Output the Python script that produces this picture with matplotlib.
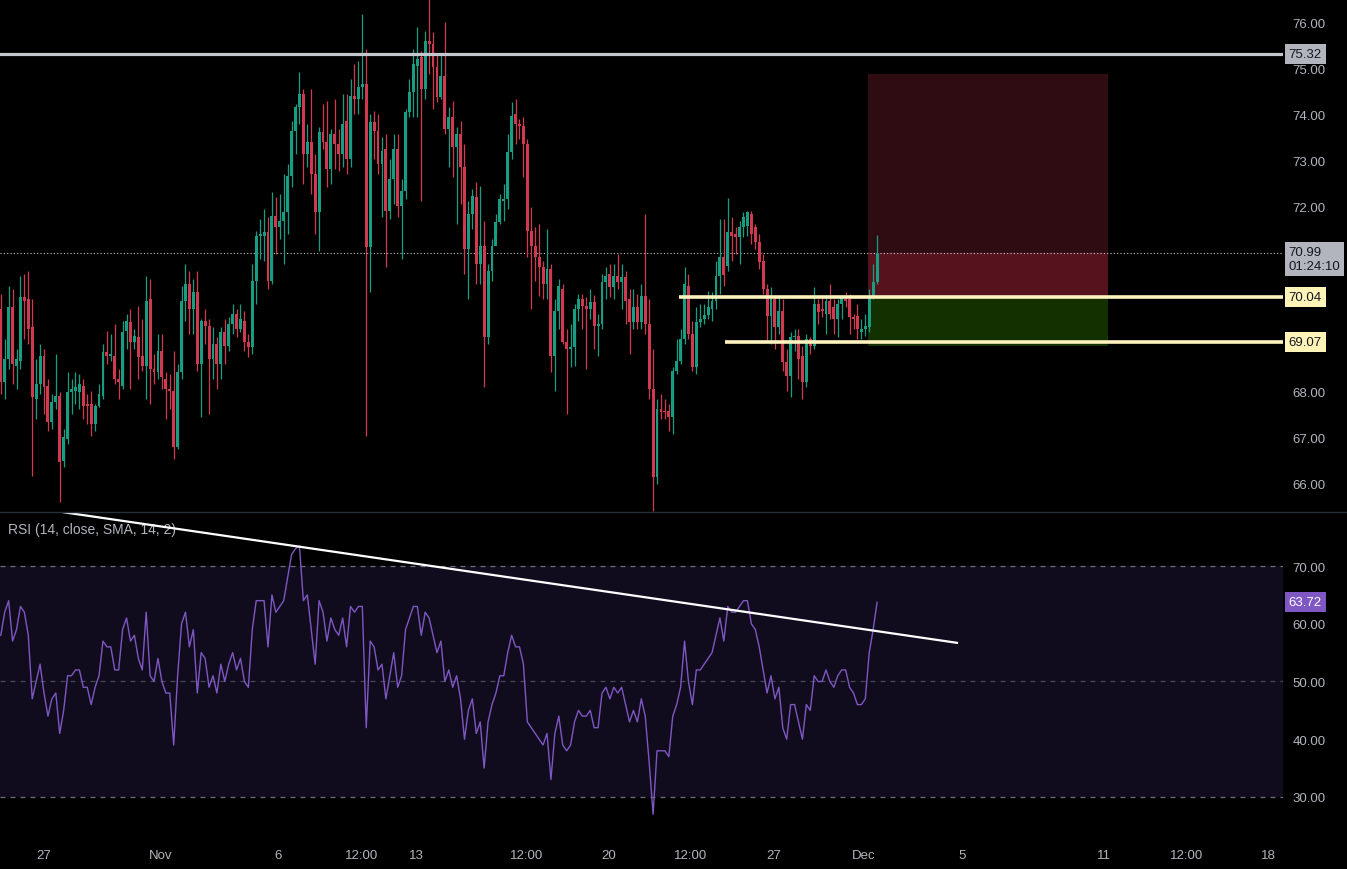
import matplotlib
matplotlib.use('Agg')
import matplotlib.pyplot as plt
import matplotlib.transforms as mtransforms
from matplotlib.patches import Rectangle
from matplotlib.lines import Line2D

# ---- data (4h-ish bars) ----
opens = [69.78, 68.20, 68.70, 69.83, 68.54, 68.65, 70.04, 70.00, 69.39, 67.83,
         68.15, 68.76, 68.11, 67.33, 67.76, 67.89, 66.48, 66.96, 67.98, 68.00,
         67.98, 68.11, 67.72, 67.72, 67.28, 67.67, 67.89, 68.85, 68.76, 68.76,
         68.26, 68.11, 69.30, 69.50, 69.07, 69.17, 68.76, 68.54, 70.00, 68.48,
         68.41, 68.87, 68.26, 68.04, 68.00, 66.78, 68.41, 69.96, 70.33, 69.78,
         70.15, 68.59, 69.52, 69.41, 68.70, 69.02, 68.59, 69.28, 68.98, 69.46,
         69.67, 69.35, 69.52, 69.07, 68.96, 70.39, 71.37, 71.37, 71.46, 70.39,
         71.80, 71.57, 71.70, 71.89, 72.67, 73.65, 74.17, 74.46, 73.15, 73.41,
         72.72, 71.89, 73.63, 73.41, 72.83, 73.59, 73.37, 73.15, 73.87, 73.04,
         74.41, 74.35, 74.61, 74.67, 71.13, 73.85, 73.65, 72.93, 73.26, 71.91,
         72.61, 73.26, 72.02, 72.35, 74.07, 74.50, 75.07, 75.26, 74.57, 75.61,
         75.54, 75.04, 74.39, 74.85, 73.70, 73.96, 73.30, 73.59, 72.87, 71.09,
         71.85, 72.22, 70.76, 71.15, 69.17, 70.61, 71.15, 71.67, 72.13, 72.17,
         73.20, 74.02, 73.80, 73.76, 73.37, 71.48, 71.15, 70.91, 70.70, 70.33,
         70.65, 68.76, 69.74, 70.22, 69.07, 68.91, 68.96, 69.78, 70.00, 69.85,
         69.78, 69.93, 69.41, 69.46, 70.37, 70.54, 70.26, 70.50, 70.37, 70.48,
         70.00, 69.50, 69.83, 69.50, 70.07, 69.46, 68.04, 66.13, 67.61, 67.57,
         67.57, 67.43, 68.43, 68.65, 69.13, 70.28, 69.24, 68.52, 69.50, 69.57,
         69.65, 69.78, 69.96, 70.50, 70.91, 70.72, 71.46, 71.41, 71.35, 71.57,
         71.59, 71.85, 71.57, 71.24, 70.83, 70.22, 69.63, 70.00, 69.39, 69.74,
         68.63, 68.33, 69.17, 69.20, 68.76, 68.20, 69.13, 68.98, 69.89, 69.78,
         69.67, 69.96, 69.83, 69.57, 69.89, 70.00, 70.00, 69.61, 69.63, 69.28,
         69.35, 69.39, 70.07, 70.37]
closes = [68.20, 68.70, 69.83, 68.59, 68.70, 70.04, 69.96, 69.35, 67.87, 68.15,
          68.76, 68.09, 67.33, 67.76, 67.89, 66.46, 67.00, 67.98, 68.04, 68.09,
          68.15, 67.67, 67.67, 67.28, 67.67, 67.93, 68.85, 68.76, 68.80, 68.26,
          68.20, 69.28, 69.52, 69.07, 69.20, 68.74, 68.54, 69.96, 68.48, 68.41,
          68.87, 68.30, 68.04, 68.00, 66.78, 68.41, 69.96, 70.33, 69.78, 70.15,
          68.59, 69.52, 69.41, 68.70, 69.02, 68.59, 69.28, 68.98, 69.46, 69.67,
          69.35, 69.57, 69.07, 68.96, 70.39, 71.37, 71.41, 71.46, 70.39, 71.80,
          71.57, 71.70, 71.89, 72.67, 73.65, 74.17, 74.46, 73.15, 73.41, 72.72,
          71.89, 73.63, 73.41, 72.83, 73.59, 73.37, 73.15, 73.80, 73.04, 74.41,
          74.35, 74.61, 74.67, 71.13, 73.85, 73.65, 72.93, 73.22, 71.91, 72.61,
          73.26, 72.02, 72.35, 74.07, 74.50, 75.11, 75.22, 74.57, 75.61, 75.54,
          75.04, 74.39, 74.85, 73.70, 73.96, 73.30, 73.59, 72.87, 71.09, 71.85,
          72.24, 70.76, 71.15, 69.17, 70.61, 71.15, 71.67, 72.17, 72.17, 73.20,
          73.98, 73.80, 73.76, 73.37, 71.48, 71.15, 70.91, 70.70, 70.33, 70.65,
          68.76, 69.74, 70.28, 69.07, 68.91, 68.96, 69.78, 70.00, 69.85, 69.78,
          69.93, 69.41, 69.46, 70.37, 70.50, 70.26, 70.50, 70.37, 70.48, 69.96,
          69.50, 69.83, 69.50, 70.07, 69.46, 68.04, 66.13, 67.61, 67.54, 67.54,
          67.43, 68.43, 68.65, 69.13, 70.33, 69.24, 68.52, 69.50, 69.57, 69.65,
          69.83, 69.96, 70.50, 70.91, 70.52, 71.46, 71.37, 71.35, 71.57, 71.78,
          71.89, 71.41, 71.24, 70.80, 70.22, 69.63, 70.00, 69.39, 69.74, 68.63,
          68.33, 69.17, 69.20, 68.70, 68.20, 69.13, 68.98, 69.89, 69.72, 69.74,
          69.96, 69.67, 69.57, 69.89, 70.04, 69.96, 69.61, 69.57, 69.35, 69.35,
          69.41, 70.04, 70.37, 70.99]
highs = [70.11, 69.13, 70.28, 70.22, 68.91, 70.50, 70.54, 70.61, 70.00, 68.70,
         69.02, 68.91, 68.26, 67.93, 68.80, 67.98, 67.17, 68.41, 68.26, 68.41,
         68.37, 68.26, 67.93, 68.00, 67.72, 68.15, 69.02, 69.30, 69.24, 69.46,
         68.48, 69.52, 69.67, 69.78, 69.35, 69.85, 69.57, 70.50, 70.43, 68.80,
         69.24, 69.24, 68.41, 68.37, 68.87, 68.59, 70.28, 70.76, 70.61, 70.43,
         70.61, 69.57, 69.78, 69.57, 69.39, 69.17, 69.39, 69.57, 69.61, 69.89,
         69.78, 69.89, 69.74, 69.24, 70.76, 71.48, 71.74, 71.96, 71.78, 72.33,
         72.22, 72.28, 72.72, 72.93, 73.87, 74.24, 74.93, 74.57, 73.80, 74.57,
         73.15, 73.74, 74.24, 74.30, 73.70, 74.35, 73.70, 74.46, 74.46, 74.78,
         75.11, 75.17, 76.20, 75.43, 74.02, 74.09, 74.02, 73.52, 73.59, 73.04,
         73.59, 73.59, 72.61, 74.13, 74.78, 75.43, 75.91, 75.39, 75.83, 76.52,
         75.80, 75.33, 75.33, 76.02, 74.17, 74.30, 73.74, 73.87, 73.37, 72.13,
         72.39, 72.54, 72.46, 71.70, 70.76, 71.30, 71.85, 72.28, 72.50, 73.59,
         74.28, 74.35, 73.91, 73.96, 73.48, 72.00, 71.57, 71.63, 70.83, 71.52,
         70.76, 70.00, 70.43, 70.33, 69.35, 69.46, 69.89, 70.11, 70.11, 70.04,
         70.22, 70.09, 69.67, 70.54, 70.70, 70.76, 70.76, 70.98, 70.76, 70.61,
         70.22, 70.22, 70.11, 70.33, 71.85, 70.00, 68.91, 67.83, 67.93, 67.83,
         67.72, 68.52, 69.13, 69.35, 70.70, 70.54, 69.52, 69.83, 69.89, 69.89,
         70.17, 70.15, 70.83, 71.74, 71.74, 72.20, 71.78, 71.57, 71.70, 71.89,
         71.91, 71.91, 71.63, 71.41, 70.98, 70.33, 70.26, 70.04, 70.04, 70.00,
         68.91, 69.28, 69.35, 69.35, 68.98, 69.24, 69.17, 70.26, 70.00, 70.04,
         70.09, 70.33, 70.00, 70.00, 70.09, 70.15, 70.11, 69.67, 69.89, 69.57,
         69.67, 70.22, 70.76, 71.39]
lows = [67.93, 67.83, 68.48, 68.15, 68.04, 68.48, 69.13, 69.02, 66.15, 67.39,
        67.93, 67.50, 67.13, 67.17, 67.61, 65.59, 66.35, 66.85, 67.50, 67.72,
        67.61, 67.39, 67.28, 67.02, 67.13, 67.65, 67.83, 68.59, 68.65, 68.15,
        67.83, 68.04, 68.91, 68.04, 68.91, 68.26, 68.43, 67.83, 67.72, 68.15,
        68.26, 68.04, 67.39, 67.61, 66.52, 66.74, 68.26, 69.52, 69.24, 69.24,
        68.43, 67.43, 69.02, 67.50, 68.26, 68.04, 68.26, 68.59, 68.87, 69.24,
        69.17, 69.28, 68.87, 68.74, 68.80, 69.89, 70.87, 70.83, 70.22, 70.33,
        70.98, 71.30, 70.76, 71.41, 72.43, 73.15, 73.80, 72.50, 72.87, 72.28,
        71.41, 71.04, 73.26, 72.43, 72.50, 72.83, 72.78, 72.87, 72.72, 72.87,
        74.02, 74.02, 74.35, 67.02, 70.15, 73.04, 72.72, 71.78, 70.70, 71.74,
        72.07, 71.78, 70.87, 72.17, 73.96, 73.96, 73.96, 72.13, 74.35, 74.89,
        74.13, 74.28, 74.35, 73.59, 72.87, 72.65, 71.63, 72.07, 70.54, 70.00,
        71.52, 70.33, 70.33, 68.09, 69.02, 70.39, 71.41, 71.63, 71.70, 71.96,
        73.04, 73.37, 73.48, 72.65, 70.91, 69.78, 70.39, 70.07, 70.00, 70.00,
        68.41, 68.00, 69.35, 69.02, 67.50, 68.52, 68.54, 69.52, 69.35, 68.48,
        69.57, 68.91, 68.76, 69.35, 70.00, 70.04, 70.00, 70.22, 69.78, 69.46,
        68.80, 69.35, 69.35, 69.35, 69.24, 67.83, 65.39, 65.98, 67.39, 67.39,
        67.13, 67.07, 68.37, 68.59, 69.02, 69.13, 68.43, 68.37, 69.39, 69.46,
        69.57, 69.52, 69.78, 70.11, 70.28, 70.61, 70.83, 70.98, 70.76, 71.35,
        71.37, 71.20, 71.09, 70.65, 70.11, 69.07, 69.02, 68.91, 69.24, 68.43,
        68.00, 67.87, 68.87, 68.26, 67.83, 68.09, 68.80, 68.91, 69.46, 69.61,
        69.24, 69.57, 69.24, 69.17, 69.57, 69.83, 69.24, 69.35, 69.13, 69.13,
        69.20, 69.28, 70.00, 70.33]
rsi = [58, 62, 64, 57, 59, 63, 62, 58, 47, 50,
       53, 48, 44, 47, 48, 41, 45, 51, 51, 52,
       52, 49, 49, 46, 49, 51, 57, 56, 56, 52,
       52, 59, 61, 57, 58, 54, 52, 62, 51, 50,
       54, 50, 48, 48, 39, 51, 60, 62, 56, 59,
       48, 55, 54, 49, 51, 48, 53, 50, 53, 55,
       52, 54, 50, 49, 59, 64, 64, 64, 56, 65,
       62, 63, 64, 68, 72, 73, 73.5, 64, 65, 59,
       53, 64, 62, 57, 61, 59, 58, 61, 56, 63,
       62, 63, 63, 42, 57, 56, 52, 53, 47, 51,
       55, 49, 51, 59, 61, 63, 63, 58, 62, 61,
       58, 55, 57, 50, 52, 49, 51, 47, 40, 45,
       47, 41, 43, 35, 43, 46, 48, 51, 51, 55,
       58, 56, 56, 53, 43, 42, 41, 40, 39, 41,
       33, 41, 44, 39, 38, 39, 43, 45, 44, 44,
       45, 42, 42, 48, 49, 47, 49, 48, 49, 46,
       43, 45, 43, 47, 44, 36, 27, 38, 38, 38,
       37, 44, 46, 49, 57, 50, 46, 52, 52, 53,
       54, 55, 58, 61, 57, 63, 62, 62, 63, 64,
       64, 60, 59, 56, 52, 48, 51, 47, 49, 42,
       40, 46, 46, 43, 40, 46, 45, 51, 50, 50,
       52, 50, 49, 51, 52, 52, 49, 48, 46, 46,
       47, 55, 59, 63.72]

time_ticks = [10.8, 40.6, 70.6, 91.7, 105.7, 133.7, 154.6, 175.5, 196.6, 219.5, 244.7, 280.8, 301.7, 322.5]
time_labels = ['27', 'Nov', '6', '12:00', '13', '12:00', '20', '12:00', '27', 'Dec', '5', '11', '12:00', '18']
price_ticks = [66, 67, 68, 72, 73, 74, 75, 76]
rsi_ticks = [30, 40, 50, 60, 70]

resistance = 75.32
entry = 70.04
target = 69.07
stop = 74.89
take_profit = 68.98
last_price = 70.99
last_rsi = 63.72
countdown = '01:24:10'
box_start, box_end = 220.7, 281.8
entry_line_start, target_line_start = 172.6, 184.4
trend_x = [15.65, 243.6]
trend_y = [79.35, 56.67]

# ---- style ----
BG = '#000000'
UP = '#179e82'
DOWN = '#cf3a50'
TXT = '#b2b5be'
plt.rcParams['font.family'] = 'Liberation Sans'

fig = plt.figure(figsize=(13.47, 8.70), dpi=100, facecolor=BG)
ax = fig.add_axes([0, 0.4103, 0.9525, 0.5897], facecolor=BG)
ax2 = fig.add_axes([0, 0.0368, 0.9525, 0.3735], facecolor=BG, sharex=ax)

x = list(range(len(closes)))
cols = [UP if c >= o else DOWN for o, c in zip(opens, closes)]
bottoms = [min(o, c) for o, c in zip(opens, closes)]
heights = [max(abs(c - o), 0.02) for o, c in zip(opens, closes)]

# position box (behind candles)
ax.add_patch(Rectangle((box_start, entry), box_end - box_start, stop - entry, fc='#2e0c12', ec='none', zorder=1))
ax.add_patch(Rectangle((box_start, entry), box_end - box_start, last_price - entry, fc='#56121d', ec='none', zorder=1.1))
ax.add_patch(Rectangle((box_start, take_profit), box_end - box_start, entry - take_profit, fc='#123000', ec='none', zorder=1))

ax.vlines(x, lows, highs, colors=cols, lw=0.9, zorder=3)
ax.bar(x, heights, bottom=bottoms, width=0.74, color=cols, zorder=4, linewidth=0)

xmax = 326.3
ax.axhline(resistance, color='#c5c7cf', lw=2.3, zorder=5)
ax.axhline(last_price, color='#c8cad0', lw=0.8, ls=(0, (1, 2)), zorder=2)
ax.hlines(entry, entry_line_start, xmax, color='#fff4c0', lw=2.6, zorder=5)
ax.hlines(target, target_line_start, xmax, color='#fff4c0', lw=2.6, zorder=5)

ax.set_xlim(-0.2, xmax)
ax.set_ylim(65.37, 76.52)

# ---- RSI panel ----
ax2.axhspan(30, 70, color='#100c1e', lw=0, zorder=0)
for lvl, a in [(70, 0.9), (50, 0.55), (30, 0.9)]:
    ax2.axhline(lvl, color='#787b86', lw=0.9, ls=(0, (4, 4)), alpha=a, zorder=1)
ax2.plot(x, rsi, color='#7e57c2', lw=1.0, zorder=3)
ax2.plot(trend_x, trend_y, color='white', lw=1.6, zorder=4, solid_capstyle='butt')
ax2.set_ylim(23.07, 79.35)
ax2.text(0.0062, 0.948, 'RSI (14, close, SMA, 14, 2)', transform=ax2.transAxes,
         color=TXT, fontsize=10, ha='left', va='center')

for a in (ax, ax2):
    for s in a.spines.values():
        s.set_visible(False)
    a.yaxis.tick_right()
    a.tick_params(axis='y', length=0, pad=7, labelsize=9.5, labelcolor=TXT)

ax.set_yticks(price_ticks)
ax.set_yticklabels([f'{v:.2f}' for v in price_ticks])
ax2.set_yticks(rsi_ticks)
ax2.set_yticklabels([f'{v:.2f}' for v in rsi_ticks])
ax.tick_params(axis='x', bottom=False, labelbottom=False)
ax2.set_xticks(time_ticks)
ax2.set_xticklabels(time_labels)
ax2.tick_params(axis='x', length=0, pad=9, labelsize=9.5, labelcolor=TXT)

# separator between panes
fig.add_artist(Line2D([0, 1], [0.4103, 0.4103], color='#2a2e39', lw=1.0))

# right-side price tags
def tag(axis, y, s, fc, tc):
    tr = mtransforms.blended_transform_factory(axis.transAxes, axis.transData)
    axis.text(1.0045, y, s, transform=tr, color=tc, fontsize=9.5, ha='left', va='center',
              clip_on=False, zorder=10, linespacing=1.15,
              bbox=dict(boxstyle='square,pad=0.3', fc=fc, ec='none'))

tag(ax, resistance, f'{resistance:.2f}', '#b2b5be', '#131722')
tag(ax, last_price - 0.12, f'{last_price:.2f}\n{countdown}', '#b2b5be', '#131722')
tag(ax, entry, f'{entry:.2f}', '#fff4b8', '#131722')
tag(ax, target, f'{target:.2f}', '#fff4b8', '#131722')
tag(ax2, last_rsi, f'{last_rsi:.2f}', '#7e57c2', 'white')

fig.savefig('out.png', dpi=100, facecolor=BG)
